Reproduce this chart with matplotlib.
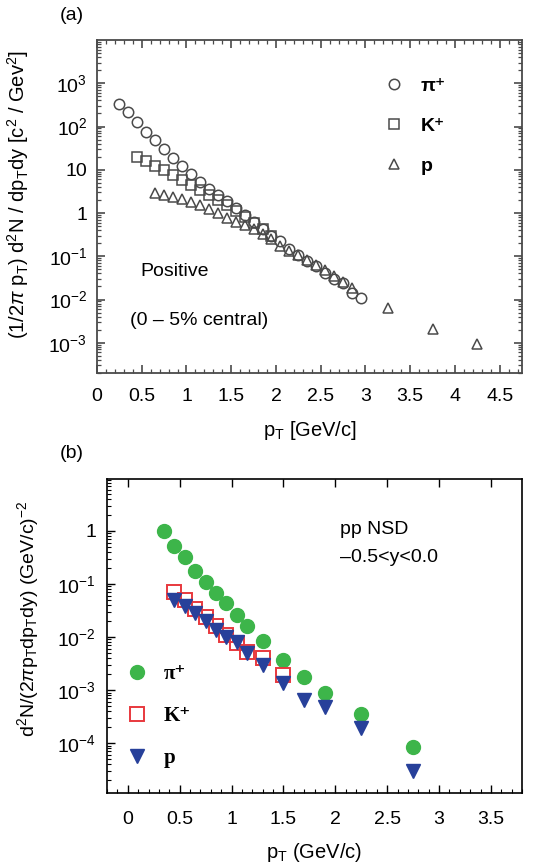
import numpy as np
import matplotlib
matplotlib.use('Agg')
from matplotlib import pyplot as plt
from matplotlib.ticker import MultipleLocator, LogLocator, FixedLocator, FixedFormatter, NullFormatter, FormatStrFormatter

plt.rcParams['font.family'] = ['Liberation Sans', 'DejaVu Sans']
plt.rcParams['mathtext.fontset'] = 'custom'
plt.rcParams['mathtext.rm'] = 'Liberation Sans'
plt.rcParams['mathtext.it'] = 'Liberation Sans:italic'
plt.rcParams['mathtext.bf'] = 'Liberation Sans:bold'

"""Dados do painel (a) - Au+Au, 0-5% central"""
pt_pi_a = [0.25, 0.35, 0.45, 0.55, 0.65, 0.75, 0.85, 0.95, 1.05, 1.15, 1.25, 1.35, 1.45, 1.55,
           1.65, 1.75, 1.85, 1.95, 2.05, 2.15, 2.25, 2.35, 2.45, 2.55, 2.65, 2.75, 2.85, 2.95]
y_pi_a = [330, 215, 126, 74, 48, 31, 19, 12, 7.9, 5.2, 3.5, 2.6, 1.9, 1.3,
          0.89, 0.62, 0.43, 0.30, 0.22, 0.15, 0.105, 0.078, 0.058, 0.040, 0.030, 0.024, 0.014, 0.011]

pt_k_a = [0.45, 0.55, 0.65, 0.75, 0.85, 0.95, 1.05, 1.15, 1.25, 1.35, 1.45, 1.55, 1.65, 1.75, 1.85, 1.95]
y_k_a = [19.5, 16, 12.5, 10, 7.6, 5.9, 4.4, 3.4, 2.6, 2.0, 1.5, 1.1, 0.8, 0.58, 0.42, 0.30]

pt_p_a = [0.65, 0.75, 0.85, 0.95, 1.05, 1.15, 1.25, 1.35, 1.45, 1.55, 1.65, 1.75, 1.85, 1.95,
          2.05, 2.15, 2.25, 2.35, 2.45, 2.55, 2.65, 2.75, 2.85, 3.25, 3.75, 4.25]
y_p_a = [2.9, 2.6, 2.35, 2.1, 1.8, 1.5, 1.23, 0.98, 0.78, 0.63, 0.52, 0.42, 0.32, 0.25,
         0.17, 0.13, 0.105, 0.083, 0.063, 0.047, 0.035, 0.026, 0.018, 0.0062, 0.0021, 0.00093]

"""Dados do painel (b) - pp NSD"""
pt_pi_b = [0.35, 0.45, 0.55, 0.65, 0.75, 0.85, 0.95, 1.05, 1.15, 1.3, 1.5, 1.7, 1.9, 2.25, 2.75]
y_pi_b = [1.0, 0.53, 0.32, 0.175, 0.11, 0.068, 0.043, 0.026, 0.016, 0.0085, 0.0037, 0.0018,
          0.00087, 0.00036, 0.000083]

pt_k_b = [0.45, 0.55, 0.65, 0.75, 0.85, 0.95, 1.05, 1.15, 1.3, 1.5]
y_k_b = [0.07, 0.05, 0.034, 0.024, 0.016, 0.011, 0.0076, 0.0053, 0.004, 0.0019]

pt_p_b = [0.45, 0.55, 0.65, 0.75, 0.85, 0.95, 1.05, 1.15, 1.3, 1.5, 1.7, 1.9, 2.25, 2.75]
y_p_b = [0.05, 0.038, 0.028, 0.02, 0.0138, 0.01, 0.0079, 0.005, 0.003, 0.00135, 0.00065,
         0.00048, 0.00019, 0.00003]

ticks_a = [1e-3, 1e-2, 1e-1, 1, 10, 1e2, 1e3]
rotulos_a = [r'$10^{-3}$', r'$10^{-2}$', r'$10^{-1}$', '1', '10', r'$10^{2}$', r'$10^{3}$']
ticks_b = [1e-4, 1e-3, 1e-2, 1e-1, 1]
rotulos_b = [r'$10^{-4}$', r'$10^{-3}$', r'$10^{-2}$', r'$10^{-1}$', '1']

fig = plt.figure(figsize=(5.42, 8.65), dpi=100)

"""Painel (a)"""
cinza = '#4a4a4a'
ax1 = fig.add_axes([97 / 542, 1 - 373 / 865, 425 / 542, 333 / 865])
l1, = ax1.plot(pt_pi_a, y_pi_a, 'o', ms=7.5, mfc='none', mec=cinza, mew=1.1)
l2, = ax1.plot(pt_k_a, y_k_a, 's', ms=7.5, mfc='none', mec=cinza, mew=1.1)
l3, = ax1.plot(pt_p_a, y_p_a, '^', ms=7.5, mfc='none', mec=cinza, mew=1.1)
ax1.set_yscale('log')
ax1.set_xlim(0, 4.75)
ax1.set_ylim(2e-4, 1e4)
ax1.xaxis.set_major_locator(MultipleLocator(0.5))
ax1.xaxis.set_minor_locator(MultipleLocator(0.1))
ax1.xaxis.set_major_formatter(FormatStrFormatter('%g'))
ax1.yaxis.set_major_locator(FixedLocator(ticks_a))
ax1.yaxis.set_major_formatter(FixedFormatter(rotulos_a))
ax1.yaxis.set_minor_locator(LogLocator(base=10, subs=np.arange(2, 10), numticks=20))
ax1.yaxis.set_minor_formatter(NullFormatter())
ax1.tick_params(which='both', direction='in', top=True, right=True, labelsize=14, color=cinza)
ax1.tick_params(which='major', length=6, width=1.2, pad=7)
ax1.tick_params(axis='x', which='major', pad=11)
ax1.tick_params(which='minor', length=3, width=0.9)
for s in ax1.spines.values():
    s.set_color(cinza)
    s.set_linewidth(1.3)
ax1.set_xlabel(r'p$_\mathrm{T}$ [GeV/c]', fontsize=14.5)
ax1.xaxis.set_label_coords(0.5, -0.138)
ax1.set_ylabel(r'(1/2$\pi$ p$_\mathrm{T}$) d$^2$N / dp$_\mathrm{T}$dy [c$^2$ / Gev$^2$]', fontsize=14.5)
ax1.yaxis.set_label_coords(-0.155, 0.535)
ax1.legend([l1, l2, l3], ['π⁺', 'K⁺', 'p'], loc='upper left', bbox_to_anchor=(0.675, 0.887),
           frameon=False, handlelength=1.0, handletextpad=0.9, labelspacing=1.15,
           borderpad=0, borderaxespad=0,
           prop=dict(family=['Liberation Sans', 'DejaVu Sans'], weight='bold', size=14))
ax1.text(0.101, 0.304, 'Positive', transform=ax1.transAxes, fontsize=14, va='center')
ax1.text(0.078, 0.159, '(0 – 5% central)', transform=ax1.transAxes, fontsize=14, va='center')
fig.text(72 / 542, 1 - 15 / 865, '(a)', fontsize=14, ha='center', va='center')

"""Painel (b)"""
verde = '#3db54a'
vermelho = '#e8383d'
azul = '#27409a'
ax2 = fig.add_axes([107 / 542, 1 - 793 / 865, 415 / 542, 314 / 865])
m1, = ax2.plot(pt_pi_b, y_pi_b, 'o', ms=10, color=verde, mec=verde)
m2, = ax2.plot(pt_k_b, y_k_b, 's', ms=10, mfc='none', mec=vermelho, mew=1.4)
m3, = ax2.plot(pt_p_b, y_p_b, 'v', ms=10, color=azul, mec=azul)
ax2.set_yscale('log')
ax2.set_xlim(-0.2, 3.8)
ax2.set_ylim(1.15e-5, 9.5)
ax2.xaxis.set_major_locator(MultipleLocator(0.5))
ax2.xaxis.set_minor_locator(MultipleLocator(0.1))
ax2.xaxis.set_major_formatter(FormatStrFormatter('%g'))
ax2.yaxis.set_major_locator(FixedLocator(ticks_b))
ax2.yaxis.set_major_formatter(FixedFormatter(rotulos_b))
ax2.yaxis.set_minor_locator(LogLocator(base=10, subs=np.arange(2, 10), numticks=20))
ax2.yaxis.set_minor_formatter(NullFormatter())
ax2.tick_params(which='both', direction='in', labelsize=14)
ax2.tick_params(which='major', length=6, width=1.0, top=True, pad=8)
ax2.tick_params(axis='x', which='major', pad=13)
ax2.tick_params(which='minor', length=3, width=0.8)
for s in ax2.spines.values():
    s.set_linewidth(1.2)
ax2.set_xlabel(r'p$_\mathrm{T}$ (GeV/c)', fontsize=14.5)
ax2.xaxis.set_label_coords(0.5, -0.153)
ax2.set_ylabel(r'd$^2$N/(2$\pi$p$_\mathrm{T}$dp$_\mathrm{T}$dy) (GeV/c)$^{-2}$', fontsize=14)
ax2.yaxis.set_label_coords(-0.159, 0.555)
ax2.legend([m1, m2, m3], ['π⁺', 'K⁺', 'p'], loc='upper left', bbox_to_anchor=(0.046, 0.41),
           frameon=False, handlelength=1.0, handletextpad=0.8, labelspacing=1.05,
           borderpad=0, borderaxespad=0,
           prop=dict(family=['Liberation Serif', 'DejaVu Serif'], weight='bold', size=15))
ax2.text(0.561, 0.838, 'pp NSD', transform=ax2.transAxes, fontsize=14, va='center')
ax2.text(0.561, 0.751, '–0.5<y<0.0', transform=ax2.transAxes, fontsize=14, va='center')
fig.text(72 / 542, 1 - 453 / 865, '(b)', fontsize=14, ha='center', va='center')

fig.savefig('out.png', dpi=100)
